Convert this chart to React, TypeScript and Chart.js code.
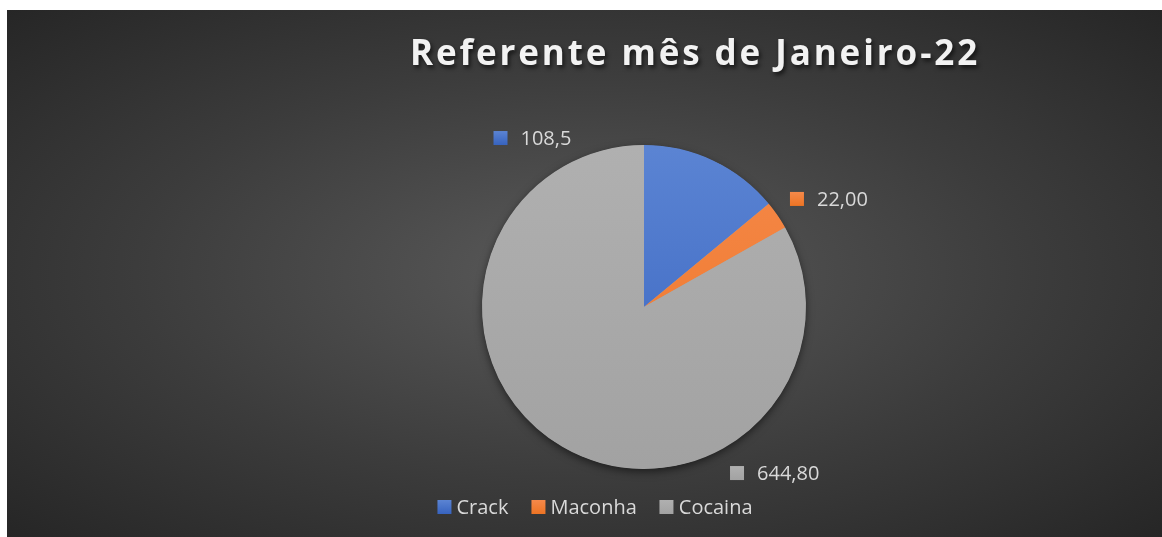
import React, { useEffect, useRef } from "react";
import { Chart, registerables } from "chart.js";

Chart.register(...registerables);

const categories = ["Crack", "Maconha", "Cocaina"];
const values = [108.5, 22.0, 644.8];
const valueLabels = ["108,5", "22,00", "644,80"];
const titleText = "Referente mês de Janeiro-22";

const W = 1155;
const H = 527;
const gradTop = ["#5b84d3", "#f5894a", "#b0b0b0"];
const gradBottom = ["#3763bf", "#ed7424", "#a2a2a2"];
// label anchor offsets (in units of pie radius, relative to the pie centre)
const labelOffsets = [
  { fx: -0.929, fy: -1.043 },
  { fx: 0.901, fy: -0.667 },
  { fx: 0.531, fy: 1.025 },
];

const shadowPlugin = {
  id: "pieShadow",
  beforeDatasetsDraw(chart: any) {
    const arc = chart.getDatasetMeta(0).data[0];
    if (!arc) return;
    const { x, y, outerRadius } = arc.getProps(["x", "y", "outerRadius"], true);
    const ctx = chart.ctx;
    ctx.save();
    ctx.shadowColor = "rgba(0,0,0,0.55)";
    ctx.shadowBlur = 9;
    ctx.shadowOffsetY = 3;
    ctx.fillStyle = "#a5a5a5";
    ctx.beginPath();
    ctx.arc(x, y, outerRadius - 0.5, 0, Math.PI * 2);
    ctx.fill();
    ctx.restore();
  },
};

const labelPlugin = {
  id: "valueLabels",
  afterDatasetsDraw(chart: any) {
    const ctx = chart.ctx;
    const meta = chart.getDatasetMeta(0);
    ctx.save();
    ctx.font = "20px 'Open Sans'";
    ctx.textBaseline = "middle";
    ctx.textAlign = "left";
    meta.data.forEach((arc: any, i: number) => {
      const { x, y, outerRadius } = arc.getProps(["x", "y", "outerRadius"], true);
      const mx = x + labelOffsets[i].fx * outerRadius;
      const my = y + labelOffsets[i].fy * outerRadius;
      const g = ctx.createLinearGradient(0, my - 7, 0, my + 7);
      g.addColorStop(0, gradTop[i]);
      g.addColorStop(1, gradBottom[i]);
      ctx.fillStyle = g;
      ctx.fillRect(mx, my - 7, 14, 14);
      ctx.fillStyle = "#d9d9d9";
      ctx.fillText(valueLabels[i], mx + 27, my + 1);
    });
    ctx.restore();
  },
};

export default function App() {
  const ref = useRef<HTMLCanvasElement | null>(null);
  useEffect(() => {
    if (!ref.current) return;
    const chart = new Chart(ref.current, {
      type: "pie",
      data: {
        labels: categories,
        datasets: [
          {
            data: values,
            borderWidth: 0,
            backgroundColor: (c: any) => {
              const ch = c.chart;
              const area = ch.chartArea;
              const i = c.dataIndex ?? 0;
              if (!area) return gradBottom[i];
              const g = ch.ctx.createLinearGradient(0, area.top, 0, area.bottom);
              g.addColorStop(0, gradTop[i]);
              g.addColorStop(1, gradBottom[i]);
              return g;
            },
          },
        ],
      },
      options: {
        responsive: false,
        animation: false,
        layout: { padding: { left: 475, right: 356, top: 135, bottom: 68 } },
        plugins: {
          legend: { display: false },
          title: { display: false },
          tooltip: { enabled: false },
        },
      },
      plugins: [shadowPlugin, labelPlugin],
    });
    return () => chart.destroy();
  }, []);

  return (
    <div
      style={{
        position: "absolute",
        left: 7,
        top: 10,
        width: W,
        height: H,
        overflow: "hidden",
        background:
          "radial-gradient(ellipse farthest-corner at 50% 50%, #5a5a5a 0%, #3c3c3c 55%, #262626 100%)",
        fontFamily: "'Open Sans', sans-serif",
      }}
    >
      <canvas ref={ref} width={W} height={H} style={{ position: "absolute", left: 0, top: 0, width: W, height: H }} />
      <div
        style={{
          position: "absolute",
          left: 688,
          top: 22,
          transform: "translateX(-50%)",
          whiteSpace: "nowrap",
          fontSize: 35,
          lineHeight: "40px",
          fontWeight: 700,
          letterSpacing: 2.9,
          color: "#f2f2f2",
          textShadow: "2px 3px 4px rgba(0,0,0,0.6)",
        }}
      >
        {titleText}
      </div>
      <div
        style={{
          position: "absolute",
          left: 588,
          top: 483,
          transform: "translateX(-50%)",
          display: "flex",
          alignItems: "center",
          whiteSpace: "nowrap",
          fontSize: 20,
          lineHeight: "28px",
          color: "#d9d9d9",
        }}
      >
        {categories.map((c, i) => (
          <div key={c} style={{ display: "flex", alignItems: "center", marginRight: i < categories.length - 1 ? 23 : 0 }}>
            <span
              style={{
                display: "inline-block",
                width: 14,
                height: 14,
                marginRight: 5,
                background: `linear-gradient(${gradTop[i]}, ${gradBottom[i]})`,
              }}
            />
            <span>{c}</span>
          </div>
        ))}
      </div>
    </div>
  );
}
